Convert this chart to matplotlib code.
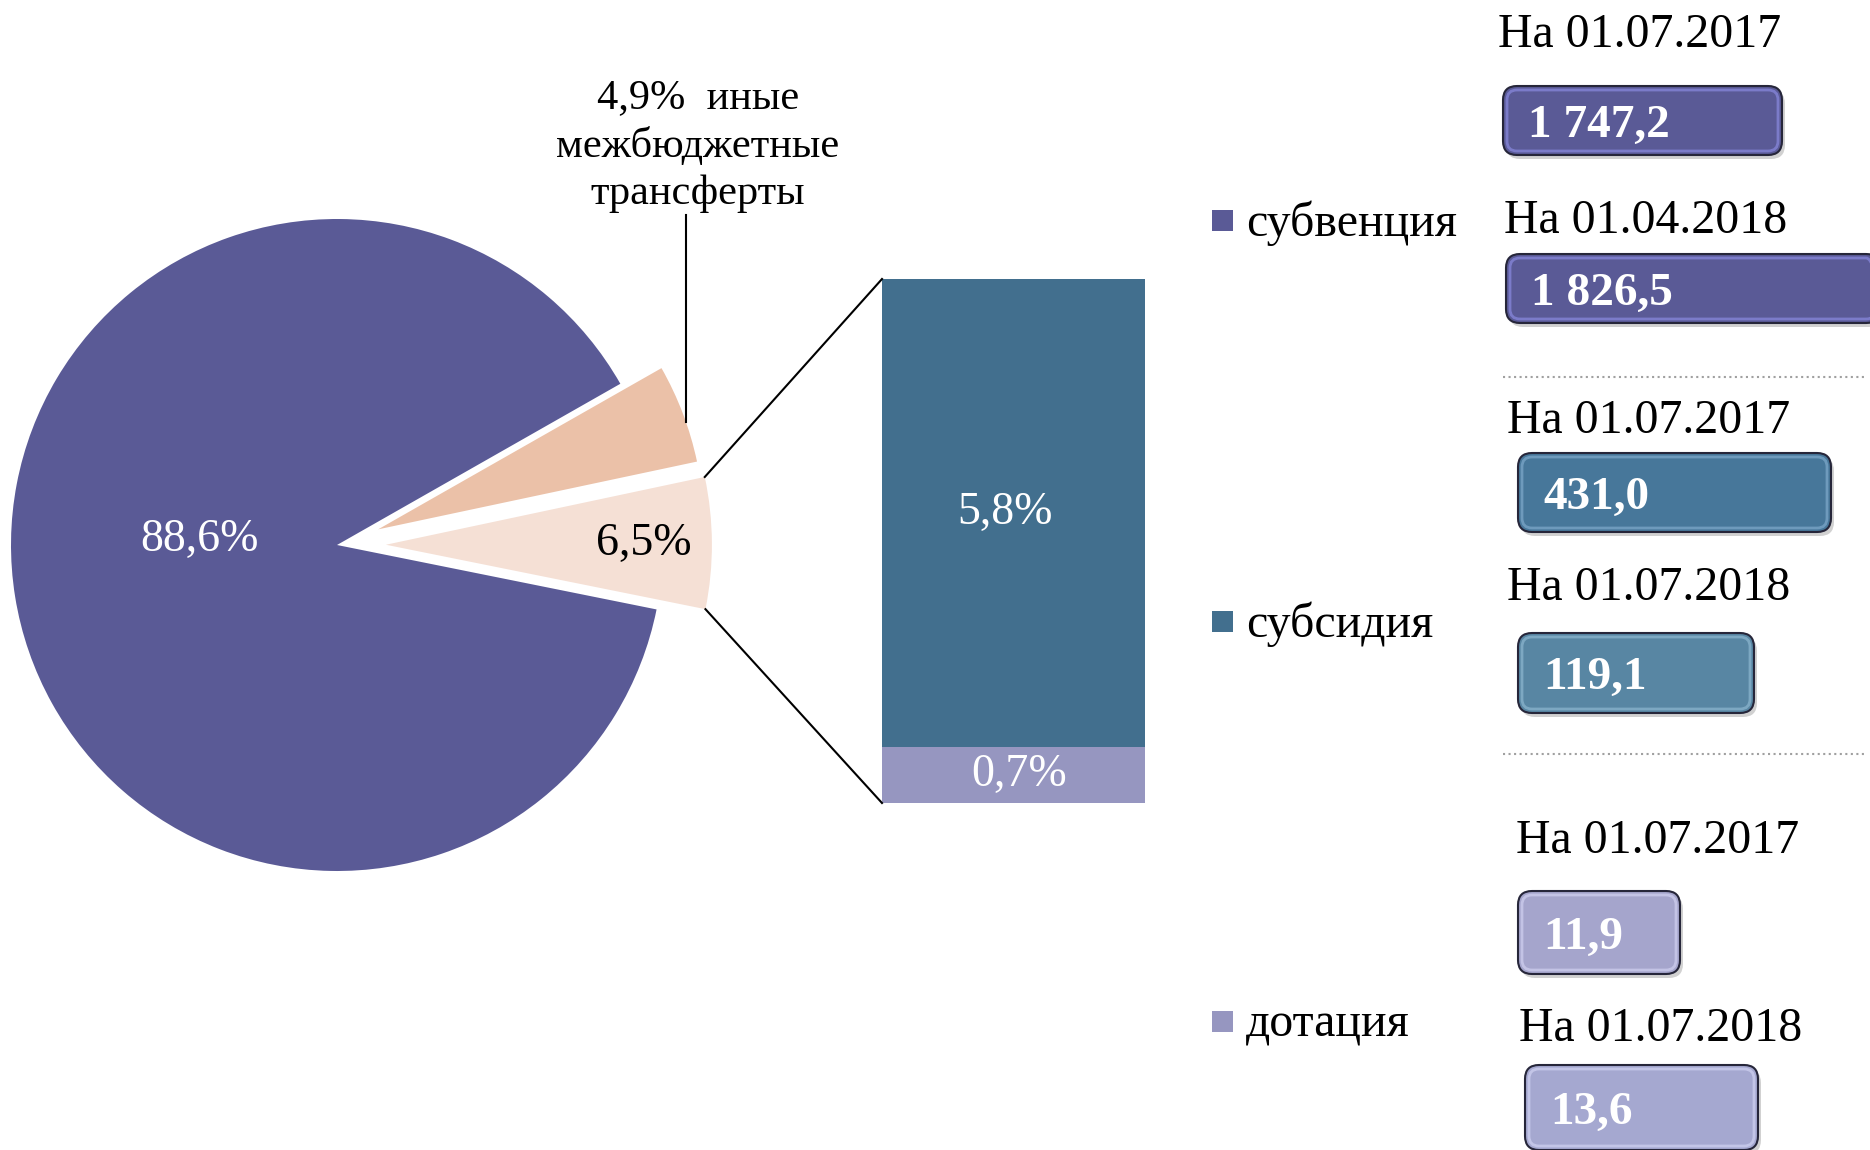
import numpy as np
import matplotlib
matplotlib.use("Agg")
import matplotlib.pyplot as plt
from matplotlib.patches import FancyBboxPatch, Rectangle

plt.rcParams['font.family'] = ['Liberation Serif', 'DejaVu Serif']

# --- данные ---
pie_parts = ['субсидия и дотация', 'иные межбюджетные трансферты', 'субвенция']
pie_values = [6.5, 4.9, 88.6]
pie_texts = ['6,5%', '4,9%  иные\nмежбюджетные\nтрансферты', '88,6%']

bar_parts = ['дотация', 'субсидия']
bar_values = [0.7, 5.8]
bar_texts = ['0,7%', '5,8%']

legend_names = ['субвенция', 'субсидия', 'дотация']
box_dates = ['На 01.07.2017', 'На 01.04.2018', 'На 01.07.2017',
             'На 01.07.2018', 'На 01.07.2017', 'На 01.07.2018']
box_values = ['1 747,2', '1 826,5', '431,0', '119,1', '11,9', '13,6']

# --- цвета ---
c_subv = '#5A5A96'
c_subs = '#426F8E'
c_dot = '#9696C0'
c_peach = '#EBC1A8'
c_light = '#F5E0D5'
box_colors = ['#5A5A96', '#5A5A96', '#47779A', '#5886A3', '#A5A5CC', '#A5A8D0']
box_light = ['#8A8AE0', '#8A8AE0', '#7FAACB', '#8DB7D0', '#D0D0F0', '#D0D2F2']

W, H = 1870, 1150


def Y(y):
    # координаты снизу вверх
    return H - y


fig = plt.figure(figsize=(W / 100, H / 100), dpi=100)
ax = fig.add_axes([0, 0, 1, 1])

# --- круговая диаграмма ---
R = 326
wedges, _ = ax.pie(pie_values, colors=[c_light, c_peach, c_subv],
                   startangle=-11.4, counterclock=True,
                   center=(337, Y(545)), radius=R,
                   explode=[0.15 * R, 0.135 * R, 0],
                   wedgeprops=dict(linewidth=0))

ax.set_xlim(0, W)
ax.set_ylim(0, H)
ax.set_aspect('equal')
ax.axis('off')

w_other, w_inye, w_subv = wedges

# подпись 88,6%
cx, cy = w_subv.center
ax.text(cx - 138, cy + 5, pie_texts[2], color='white', fontsize=33,
        ha='center', va='center')
# подпись 6,5%
cx, cy = w_other.center
ax.text(cx + 0.79 * R, cy + 1, pie_texts[0], color='black', fontsize=33,
        ha='center', va='center')

# подпись иные трансферты с выноской
ax.text(698, Y(146), pie_texts[1], color='black', fontsize=30.5,
        ha='center', va='center', multialignment='center', linespacing=1.3)
cx, cy = w_inye.center
lx = 686
ly = cy + np.sqrt(R ** 2 - (lx - cx) ** 2)
ax.plot([lx, lx], [Y(215), ly], color='black', lw=1.5)

# --- столбец ---
bar_x0, bar_w = 882, 263
bar_bottom = Y(803)
scale = (Y(279) - bar_bottom) / sum(bar_values)
bottom = bar_bottom
label_dx = [6, -9]
for val, col, txt, dx in zip(bar_values, [c_dot, c_subs], bar_texts, label_dx):
    ax.bar(bar_x0 + bar_w / 2, val * scale, width=bar_w, bottom=bottom,
           color=col, linewidth=0)
    ax.text(bar_x0 + bar_w / 2 + dx, bottom + val * scale / 2, txt,
            color='white', fontsize=33, ha='center', va='center')
    bottom += val * scale

# соединительные линии
cx, cy = w_other.center
t1, t2 = np.radians(w_other.theta1), np.radians(w_other.theta2)
top_pt = (cx + R * np.cos(t2), cy + R * np.sin(t2))
bot_pt = (cx + R * np.cos(t1), cy + R * np.sin(t1))
ax.plot([top_pt[0], bar_x0], [top_pt[1], bottom], color='black', lw=1.5)
ax.plot([bot_pt[0], bar_x0], [bot_pt[1], bar_bottom], color='black', lw=1.5)

# --- легенда ---
legend_y = [220, 621, 1021]
for name, col, yy in zip(legend_names, [c_subv, c_subs, c_dot], legend_y):
    ax.add_patch(Rectangle((1212, Y(yy) - 11), 21, 21, color=col, lw=0))
    ax.text(1246, Y(yy) - 3, name, fontsize=34.5, ha='left', va='center')

# --- плашки со значениями ---
date_pos = [(1640, 35), (1646, 221), (1649, 421), (1649, 588), (1658, 841), (1661, 1029)]
box_pos = [(1503, 1782, 86, 155), (1506, 1880, 254, 323), (1518, 1831, 453, 532),
           (1518, 1754, 633, 713), (1518, 1680, 891, 974), (1525, 1758, 1065, 1150)]

for date, val, (dx, dy), (x0, x1, y0, y1), fc, lc in zip(
        box_dates, box_values, date_pos, box_pos, box_colors, box_light):
    ax.text(dx, Y(dy), date, fontsize=34.5, ha='center', va='center')
    # тень
    ax.add_patch(FancyBboxPatch((x0 + 3, Y(y1) - 4), x1 - x0, y1 - y0,
                                boxstyle='round,pad=0,rounding_size=14',
                                fc='#000000', ec='none', alpha=0.18))
    ax.add_patch(FancyBboxPatch((x0, Y(y1)), x1 - x0, y1 - y0,
                                boxstyle='round,pad=0,rounding_size=14',
                                fc=fc, ec='#26263a', lw=1.5))
    # блик
    ax.add_patch(FancyBboxPatch((x0 + 4, Y(y1) + 4), x1 - x0 - 8, y1 - y0 - 8,
                                boxstyle='round,pad=0,rounding_size=10',
                                fc='none', ec=lc, lw=2, alpha=0.7))
    ax.text(x0 + 25, Y((y0 + y1) / 2) - 5, val, fontsize=34, fontweight='bold',
            color='white', ha='left', va='center')

# пунктирные разделители
for yy in [377, 754]:
    ax.plot([1503, 1864], [Y(yy), Y(yy)], color='#A0A0A0', lw=1.5, ls=':')

fig.savefig('out.png', dpi=100)
